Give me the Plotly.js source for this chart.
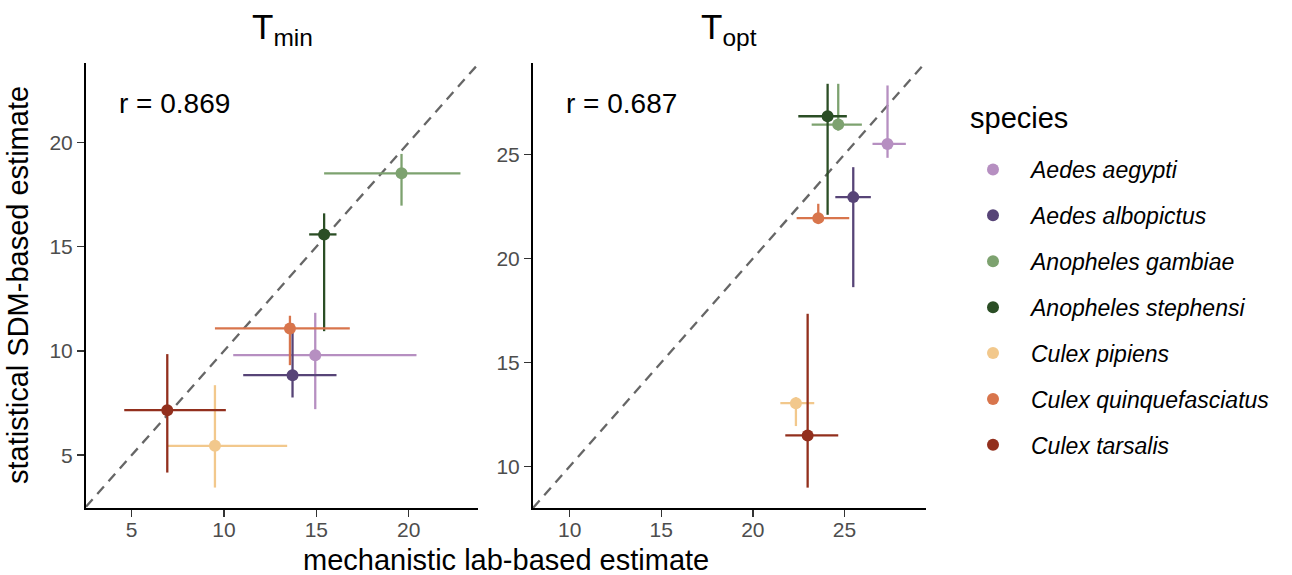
<!DOCTYPE html>
<html>
<head>
<meta charset="utf-8">
<script src="https://cdn.plot.ly/plotly-3.0.1.min.js"></script>
<style>html,body{margin:0;padding:0;background:#fff;}#chart{width:1292px;height:575px;}</style>
</head>
<body>
<div id="chart"></div>
<script>
const species = ["Aedes aegypti","Aedes albopictus","Anopheles gambiae","Anopheles stephensi","Culex pipiens","Culex quinquefasciatus","Culex tarsalis"];
const colors = ["#B68FC1","#574477","#7DA26F","#2B4E25","#F2C88C","#D8754C","#922F1D"];

// T_min panel
const tminLab   = [14.94, 13.71, 19.61, 15.42, 9.51, 13.57, 6.93];
const tminLabLo = [10.50, 11.04, 15.42, 14.61, 6.93, 9.51, 4.60];
const tminLabHi = [20.42, 16.09, 22.80, 16.09, 13.42, 16.81, 10.10];
const tminSdm   = [9.80, 8.84, 18.52, 15.59, 5.45, 11.08, 7.16];
const tminSdmLo = [7.21, 7.77, 16.97, 10.95, 3.45, 9.32, 4.17];
const tminSdmHi = [11.83, 11.32, 19.45, 16.60, 8.36, 11.69, 9.85];

// T_opt panel
const toptLab   = [27.35, 25.48, 24.66, 24.08, 22.35, 23.57, 22.99];
const toptLabLo = [26.53, 24.50, 23.21, 22.48, 21.50, 22.39, 21.77];
const toptLabHi = [28.35, 26.44, 25.95, 25.13, 23.35, 25.26, 24.66];
const toptSdm   = [25.51, 22.95, 26.44, 26.84, 13.04, 21.94, 11.49];
const toptSdmLo = [24.84, 18.62, 26.15, 22.10, 11.94, 21.68, 8.98];
const toptSdmHi = [28.32, 24.39, 28.40, 28.40, 13.33, 22.63, 17.34];

const rValues = ["0.869", "0.687"];
const tminTicks = [5, 10, 15, 20];
const toptTicks = [10, 15, 20, 25];
const tminXRange = [2.53, 23.75], tminYRange = [2.47, 23.81];
const toptXRange = [8.0, 29.45], toptYRange = [8.0, 29.4];

const FONT = "Liberation Sans, Arial, Helvetica, sans-serif";
const W = 1292, H = 575;

function diag(xr, yr, xa, ya) {
  const lo = Math.max(xr[0], yr[0]), hi = Math.min(xr[1], yr[1]);
  return {x:[lo,hi], y:[lo,hi], xaxis:xa, yaxis:ya, mode:'lines', showlegend:false,
    line:{color:'#666666', width:2.3, dash:'10px,7px'}, hoverinfo:'skip'};
}

const traces = [diag(tminXRange, tminYRange, 'x', 'y'), diag(toptXRange, toptYRange, 'x2', 'y2')];

function panel(lab, labLo, labHi, sdm, sdmLo, sdmHi, xa, ya, showLeg) {
  species.forEach((s, i) => {
    traces.push({
      x:[lab[i]], y:[sdm[i]], xaxis:xa, yaxis:ya, mode:'markers', type:'scatter',
      name:'<i>' + s + '</i>', legendgroup:s, showlegend:showLeg,
      marker:{color:colors[i], size:12},
      error_x:{type:'data', symmetric:false, array:[labHi[i]-lab[i]], arrayminus:[lab[i]-labLo[i]],
        color:colors[i], thickness:2.3, width:0},
      error_y:{type:'data', symmetric:false, array:[sdmHi[i]-sdm[i]], arrayminus:[sdm[i]-sdmLo[i]],
        color:colors[i], thickness:2.3, width:0},
      hoverinfo:'skip'
    });
  });
}
panel(tminLab, tminLabLo, tminLabHi, tminSdm, tminSdmLo, tminSdmHi, 'x', 'y', true);
panel(toptLab, toptLabLo, toptLabHi, toptSdm, toptSdmLo, toptSdmHi, 'x2', 'y2', false);

const axBase = {showline:true, linecolor:'#000', linewidth:2, ticks:'outside', ticklen:7, tickwidth:1.5,
  tickcolor:'#333', showgrid:false, zeroline:false, automargin:false,
  tickfont:{family:FONT, size:21, color:'#4d4d4d'}};
const xExtra = {ticklabelstandoff:-5};

const yDom = [1 - 508/H, 1 - 63/H];
const layout = {
  width:W, height:H, margin:{l:0, r:0, t:0, b:0}, paper_bgcolor:'#fff', plot_bgcolor:'#fff',
  font:{family:FONT},
  xaxis:Object.assign({}, axBase, xExtra, {domain:[86/W, 478/W], range:tminXRange, tickvals:tminTicks, anchor:'y'}),
  yaxis:Object.assign({}, axBase, {domain:yDom, range:tminYRange, tickvals:tminTicks, anchor:'x'}),
  xaxis2:Object.assign({}, axBase, xExtra, {domain:[533/W, 926/W], range:toptXRange, tickvals:toptTicks, anchor:'y2'}),
  yaxis2:Object.assign({}, axBase, {domain:yDom, range:toptYRange, tickvals:toptTicks, anchor:'x2'}),
  showlegend:true,
  legend:{x:955/W, xanchor:'left', y:1 - 148/H, yanchor:'top', traceorder:'grouped', tracegroupgap:13,
    itemwidth:66,
    font:{family:FONT, size:23, color:'#000'}, bgcolor:'rgba(0,0,0,0)'},
  annotations:[
    {text:'T<sub>min</sub>', xref:'paper', yref:'paper', x:282/W, y:1 - 29/H, xanchor:'center', yanchor:'middle', showarrow:false, font:{family:FONT, size:35, color:'#000'}},
    {text:'T<sub>opt</sub>', xref:'paper', yref:'paper', x:729/W, y:1 - 29/H, xanchor:'center', yanchor:'middle', showarrow:false, font:{family:FONT, size:35, color:'#000'}},
    {text:'r = ' + rValues[0], xref:'x domain', yref:'y domain', x:(117-86)/392, y:(508-104)/445, xanchor:'left', yanchor:'middle', showarrow:false, font:{family:FONT, size:28, color:'#000'}},
    {text:'r = ' + rValues[1], xref:'x2 domain', yref:'y2 domain', x:(564-533)/393, y:(508-104)/445, xanchor:'left', yanchor:'middle', showarrow:false, font:{family:FONT, size:28, color:'#000'}},
    {text:'mechanistic lab-based estimate', xref:'paper', yref:'paper', x:506/W, y:1 - 560/H, xanchor:'center', yanchor:'middle', showarrow:false, font:{family:FONT, size:29, color:'#000'}},
    {text:'statistical SDM-based estimate', xref:'paper', yref:'paper', x:18/W, y:1 - 285/H, xanchor:'center', yanchor:'middle', textangle:-90, showarrow:false, font:{family:FONT, size:29, color:'#000'}},
    {text:'species', xref:'paper', yref:'paper', x:968/W, y:1 - 118/H, xanchor:'left', yanchor:'middle', showarrow:false, font:{family:FONT, size:29, color:'#000'}}
  ]
};

Plotly.newPlot('chart', traces, layout, {staticPlot:true, displayModeBar:false});
</script>
</body>
</html>
